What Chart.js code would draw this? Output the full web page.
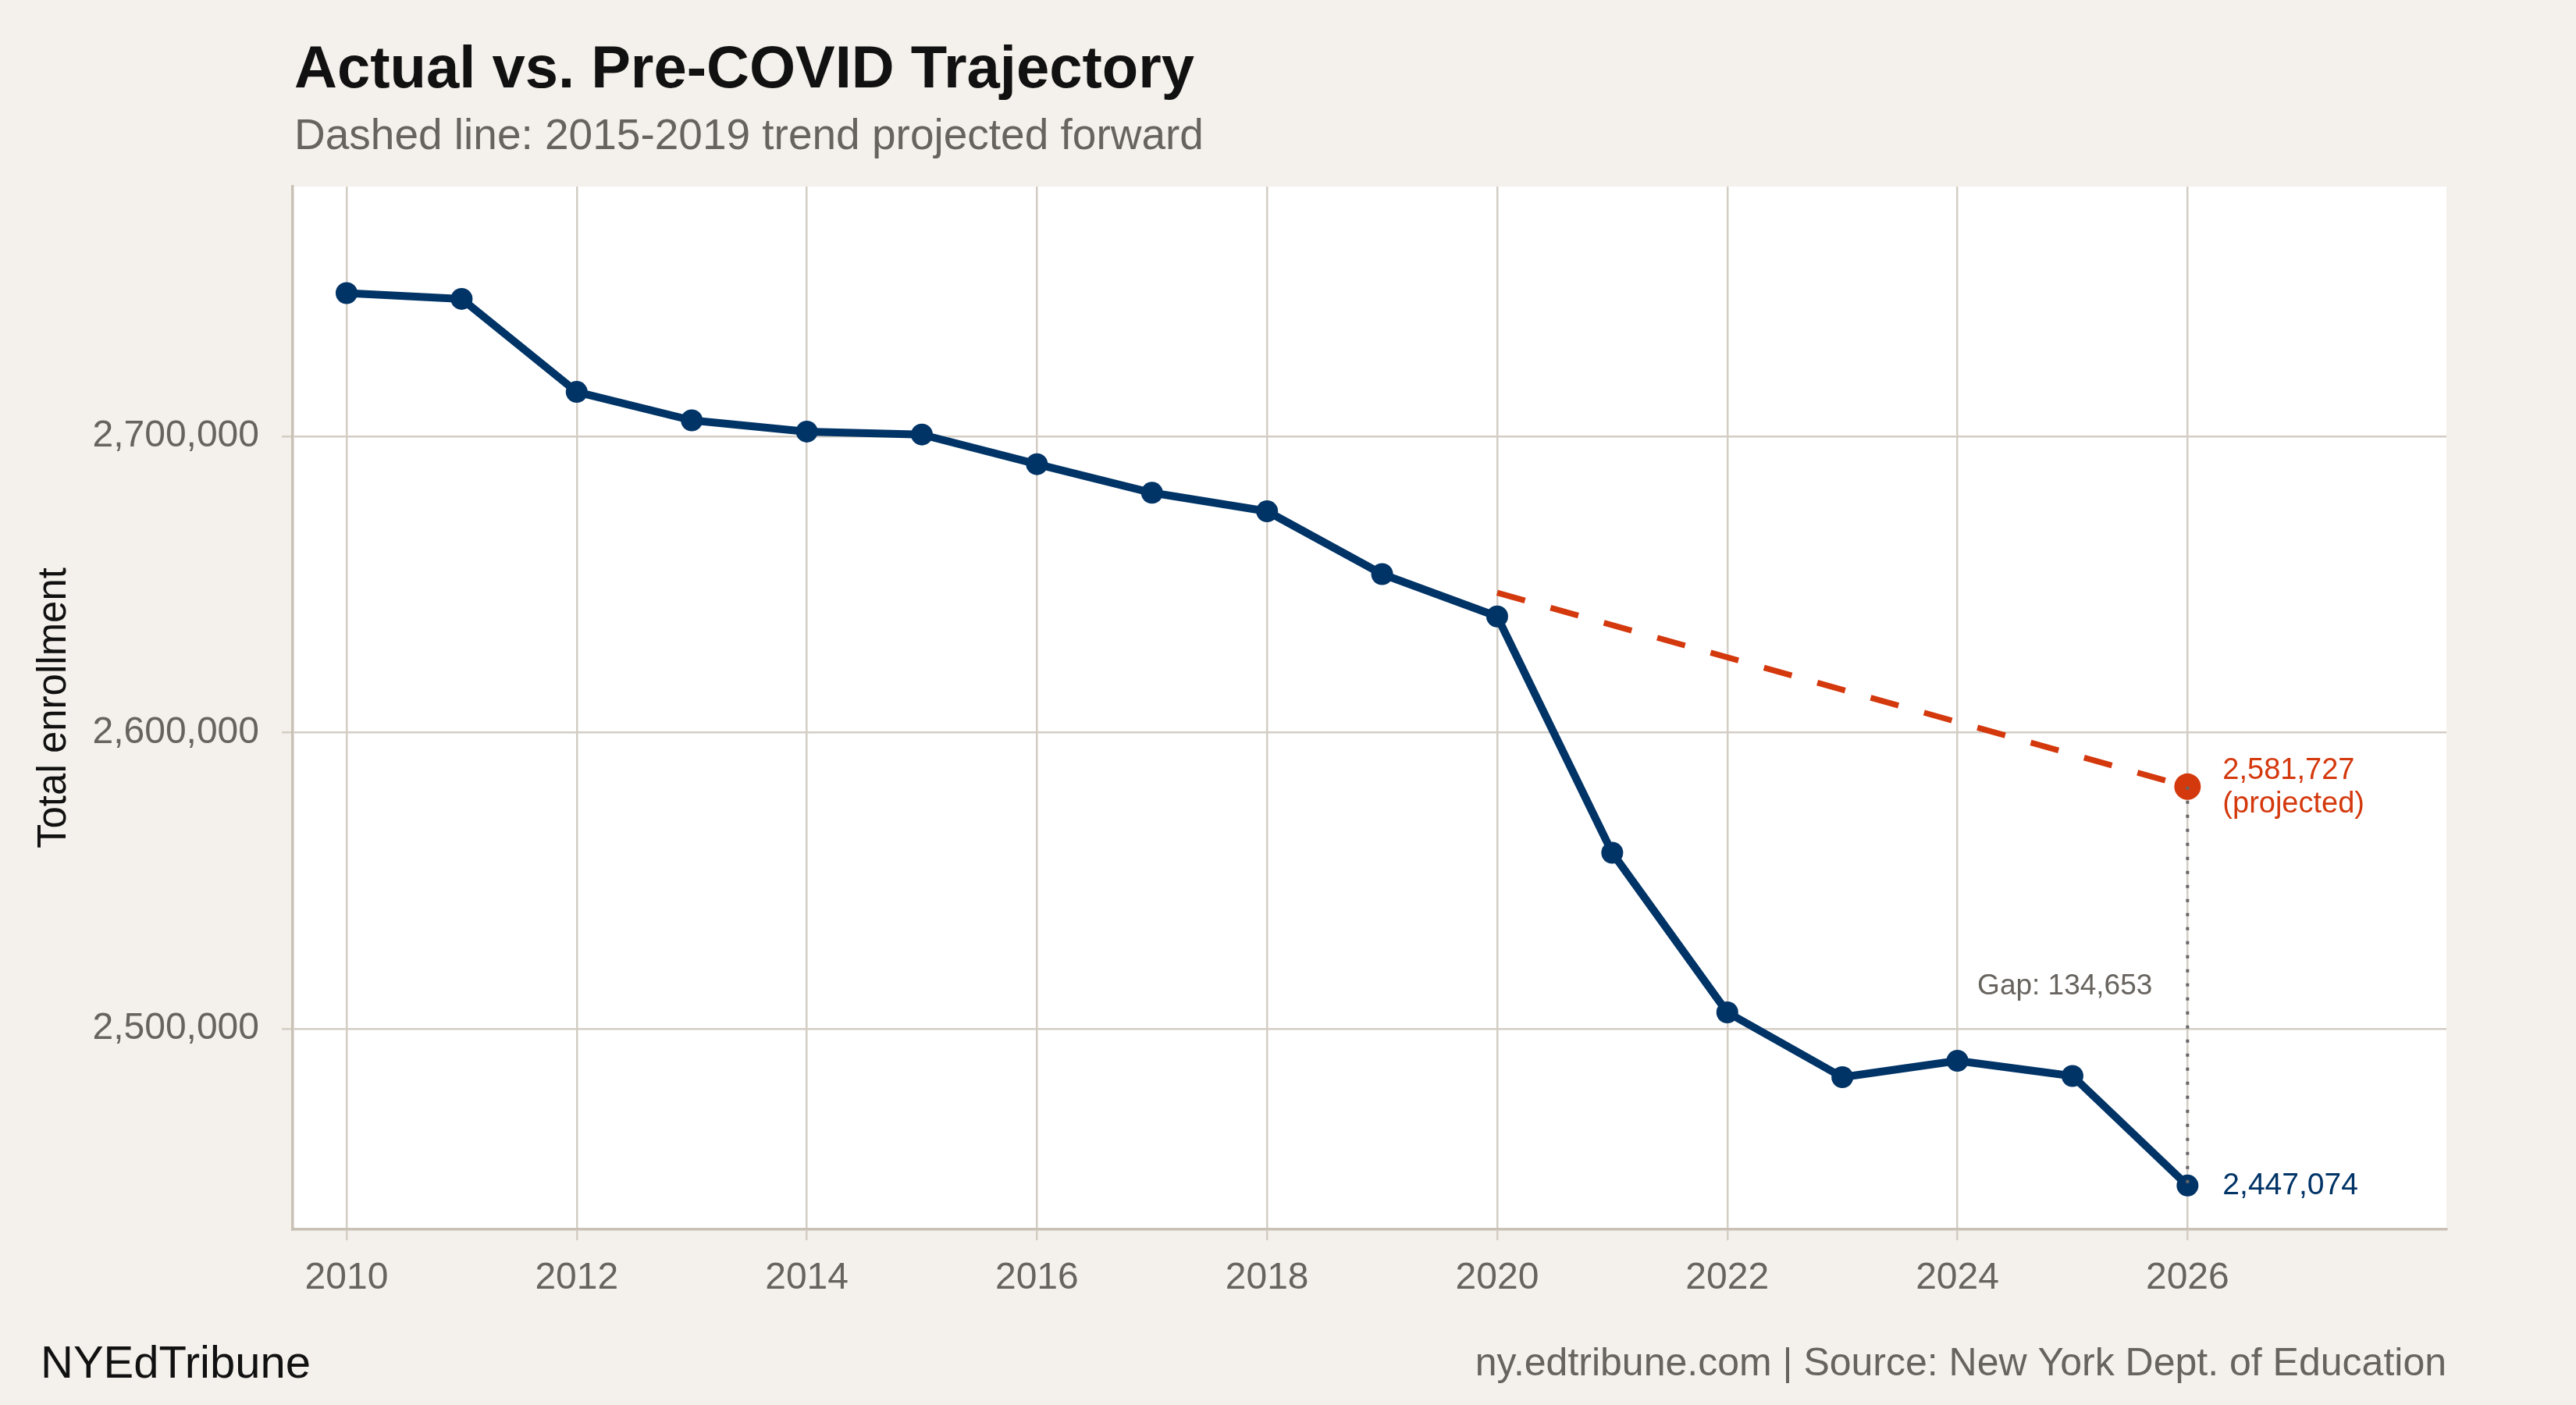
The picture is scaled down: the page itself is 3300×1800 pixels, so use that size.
<!DOCTYPE html>
<html>
<head>
<meta charset="utf-8">
<title>Actual vs. Pre-COVID Trajectory</title>
<script src="https://cdn.jsdelivr.net/npm/chart.js@4.4.1/dist/chart.umd.min.js"></script>
<style>
    html, body { margin: 0; padding: 0; background: #F4F1EC; }
    #wrap { width: 3300px; height: 1800px; }
</style>
</head>
<body>
<div id="wrap"><canvas id="trajectoryChart" width="3300" height="1800"></canvas></div>
<script>
// Datos
const years = [2010, 2011, 2012, 2013, 2014, 2015, 2016, 2017, 2018, 2019, 2020, 2021, 2022, 2023, 2024, 2025, 2026];
const enrollment = [2748350, 2746400, 2715000, 2705400, 2701600, 2700600, 2690600, 2680950, 2674700, 2653490, 2639200, 2559420, 2505530, 2483660, 2489200, 2484060, 2447074];

// tendencia 2015-2019 proyectada (solo los extremos)
const projectionYears = [2020, 2026];
const projectionValues = [2647200, 2581727];

const xTicks = [2010, 2012, 2014, 2016, 2018, 2020, 2022, 2024, 2026];
const yTicks = [2500000, 2600000, 2700000];

const NAVY = '#003366';
const RED = '#D4380D';
const GRAY_TEXT = '#67635E';
const FONT = "'Liberation Sans', Arial, Helvetica, sans-serif";

const fmt = v => Math.round(v).toLocaleString('en-US');

const lastActual = enrollment[enrollment.length - 1];
const lastProjected = projectionValues[projectionValues.length - 1];
const lastYear = years[years.length - 1];

// fondo de la pagina y panel blanco
const backgroundPlugin = {
    id: 'background',
    beforeDraw(chart) {
        const { ctx, chartArea } = chart;
        ctx.save();
        ctx.fillStyle = '#F4F1EC';
        ctx.fillRect(0, 0, chart.width, chart.height);
        ctx.fillStyle = '#FFFFFF';
        ctx.fillRect(chartArea.left, chartArea.top, chartArea.right - chartArea.left, chartArea.bottom - chartArea.top);
        ctx.restore();
    }
};

// titulos, etiquetas y pie
const textPlugin = {
    id: 'texts',
    afterDatasetsDraw(chart) {
        const { ctx, scales } = chart;
        const x = scales.x, y = scales.y;
        ctx.save();

        // etiquetas de los puntos finales
        const px = x.getPixelForValue(lastYear) + 45;
        const pyProj = y.getPixelForValue(lastProjected);
        const pyAct = y.getPixelForValue(lastActual);

        ctx.textAlign = 'left';
        ctx.textBaseline = 'middle';
        ctx.font = `38px ${FONT}`;
        ctx.fillStyle = RED;
        ctx.fillText(fmt(lastProjected), px, pyProj - 20);
        ctx.fillText('(projected)', px, pyProj + 23);

        ctx.fillStyle = NAVY;
        ctx.font = `39px ${FONT}`;
        ctx.fillText(fmt(lastActual), px, pyAct);

        // brecha
        ctx.font = `37px ${FONT}`;
        ctx.fillStyle = GRAY_TEXT;
        ctx.textAlign = 'right';
        ctx.fillText(`Gap: ${fmt(lastProjected - lastActual)}`, x.getPixelForValue(lastYear) - 45, y.getPixelForValue((lastProjected + lastActual) / 2));
        ctx.restore();
    },
    afterDraw(chart) {
        const { ctx, chartArea } = chart;
        ctx.save();
        ctx.textBaseline = 'alphabetic';
        ctx.textAlign = 'left';

        ctx.font = `bold 76px ${FONT}`;
        ctx.fillStyle = '#111111';
        ctx.fillText('Actual vs. Pre-COVID Trajectory', chartArea.left + 2, 112);

        ctx.font = `55px ${FONT}`;
        ctx.fillStyle = GRAY_TEXT;
        ctx.fillText('Dashed line: 2015-2019 trend projected forward', chartArea.left + 2, 191);

        ctx.font = `58px ${FONT}`;
        ctx.fillStyle = '#111111';
        ctx.fillText('NYEdTribune', 52, 1765);

        ctx.font = `50px ${FONT}`;
        ctx.fillStyle = GRAY_TEXT;
        ctx.textAlign = 'right';
        ctx.fillText('ny.edtribune.com | Source: New York Dept. of Education', chartArea.right, 1762);
        ctx.restore();
    }
};

const ctx = document.getElementById('trajectoryChart');

new Chart(ctx.getContext('2d'), {
    type: 'line',
    data: {
        datasets: [
            {
                // linea punteada de la brecha
                label: 'Gap',
                data: [
                    { x: lastYear, y: lastProjected },
                    { x: lastYear, y: lastActual }
                ],
                borderColor: '#666666',
                borderWidth: 4,
                borderDash: [4, 14],
                borderCapStyle: 'butt',
                pointRadius: 0,
                order: 0
            },
            {
                label: 'Actual',
                data: years.map((yr, i) => ({ x: yr, y: enrollment[i] })),
                borderColor: NAVY,
                backgroundColor: NAVY,
                borderWidth: 10,
                borderJoinStyle: 'round',
                pointRadius: 14,
                pointBackgroundColor: NAVY,
                pointBorderWidth: 0,
                tension: 0,
                order: 1
            },
            {
                label: 'Projected',
                data: projectionYears.map((yr, i) => ({ x: yr, y: projectionValues[i] })),
                borderColor: RED,
                backgroundColor: RED,
                borderWidth: 7.5,
                borderDash: [37, 34],
                borderCapStyle: 'butt',
                pointRadius: c => (c.dataIndex === projectionYears.length - 1 ? 17 : 0),
                pointBackgroundColor: RED,
                pointBorderWidth: 0,
                order: 2
            }
        ]
    },
    options: {
        responsive: false,
        devicePixelRatio: 1,
        animation: false,
        layout: {
            padding: { left: 0, right: 166, top: 239, bottom: 110 }
        },
        plugins: {
            legend: { display: false },
            tooltip: { enabled: false }
        },
        scales: {
            x: {
                type: 'linear',
                min: 2009.532,
                max: 2028.25,
                afterBuildTicks: scale => {
                    scale.ticks = xTicks.map(v => ({ value: v }));
                },
                afterFit: scale => {
                    scale.height = 115;
                },
                ticks: {
                    callback: v => String(v),
                    color: GRAY_TEXT,
                    font: { family: FONT, size: 48 },
                    padding: 20,
                    maxRotation: 0,
                    autoSkip: false
                },
                grid: {
                    color: '#D3CDC4',
                    lineWidth: 2.5,
                    tickLength: 14
                },
                border: {
                    color: '#C9C1B6',
                    width: 3.5
                }
            },
            y: {
                type: 'linear',
                min: 2432279,
                max: 2784321,
                afterBuildTicks: scale => {
                    scale.ticks = yTicks.map(v => ({ value: v }));
                },
                afterFit: scale => {
                    scale.width = 375;
                },
                ticks: {
                    callback: v => fmt(v),
                    color: GRAY_TEXT,
                    font: { family: FONT, size: 48 },
                    padding: 29
                },
                grid: {
                    color: '#D3CDC4',
                    lineWidth: 2.5,
                    tickLength: 14
                },
                border: {
                    color: '#C9C1B6',
                    width: 3.5
                },
                title: {
                    display: true,
                    text: 'Total enrollment',
                    color: '#111111',
                    font: { family: FONT, size: 51 },
                    padding: { top: 39, bottom: 0 }
                }
            }
        }
    },
    plugins: [backgroundPlugin, textPlugin]
});
</script>
</body>
</html>
